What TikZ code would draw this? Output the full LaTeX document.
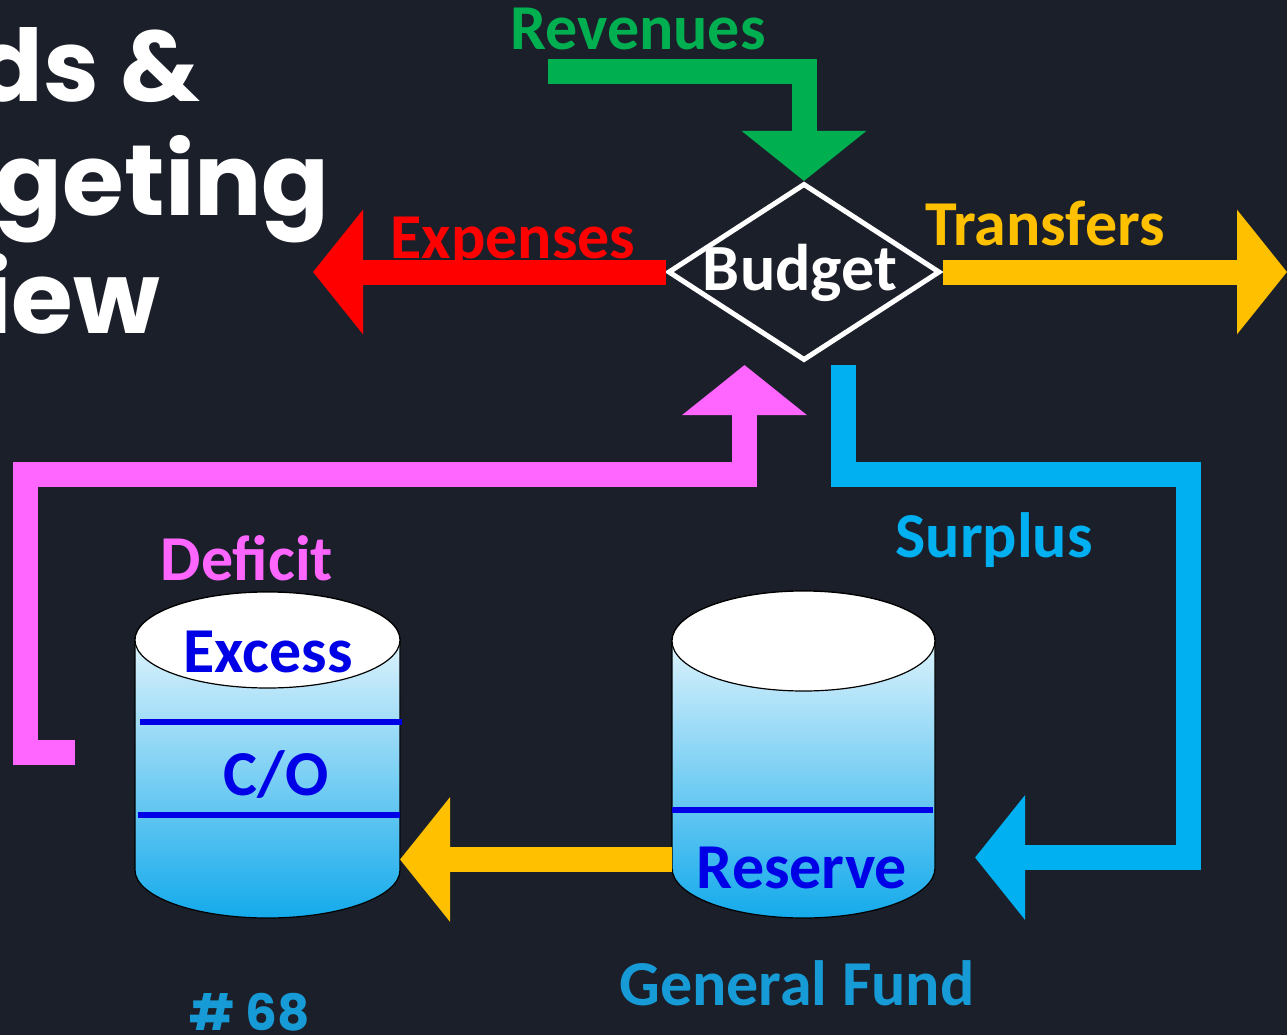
\documentclass[tikz,border=0pt]{standalone}
\usepackage{fontspec}
\setmainfont{Carlito}
\newfontfamily\titlefont{Poppins}
\usetikzlibrary{arrows.meta,shapes.geometric}
\definecolor{bg}{RGB}{27,31,42}
\definecolor{revgreen}{RGB}{0,176,80}
\definecolor{expred}{RGB}{255,0,0}
\definecolor{trgold}{RGB}{255,192,0}
\definecolor{defpink}{RGB}{255,102,255}
\definecolor{surcyan}{RGB}{0,176,240}
\definecolor{gfblue}{RGB}{22,155,215}
\definecolor{dblue}{RGB}{0,0,230}
\definecolor{cylmid}{RGB}{196,224,246}
\definecolor{cylbot}{RGB}{20,170,235}
\begin{document}
\begin{tikzpicture}[x=1pt,y=-1pt,
  flow/.style={line width=25pt, line join=miter, line cap=butt, -{Triangle[length=50pt,width=122pt]}},
  lbl/.style={font=\fontsize{64}{70}\selectfont\bfseries, anchor=base, inner sep=0pt},
  ttl/.style={font=\titlefont\fontsize{100}{110}\bfseries, text=white, anchor=base east, inner sep=0pt},
  cylbody/.style={top color=white, middle color=cylmid, bottom color=cylbot, draw=black, line width=1.2pt},
  level/.style={draw=dblue, line width=6pt},
  ghost/.style={inner sep=0pt, minimum width=265pt, minimum height=326pt}]
\fill[bg] (0,0) rectangle (1287,1035);
\useasboundingbox (0,0) rectangle (1287,1035);

% title (cut at the left edge, as in the reference)
\node[ttl] (t1) at (200,102) {ds \&};
\node[ttl] (t2) at (330,215) {geting};
\node[ttl] (t3) at (160,333) {iew};

% budget diamond
\node[diamond, draw=white, line width=5pt, minimum width=272pt, minimum height=177pt, inner sep=0pt] (budget) at (804,272) {};
\node[lbl, text=white, font=\fontsize{66}{70}\selectfont\bfseries] (budgettxt) at (800,290) {Budget};

% labels
\node[lbl, text=revgreen] (revlbl) at (638,50) {Revenues};
\node[lbl, text=expred] (explbl) at (513,258) {Expenses};
\node[lbl, text=trgold] (trlbl) at (1045,245) {Transfers};
\node[lbl, text=surcyan] (surlbl) at (994,557) {Surplus};
\node[lbl, text=defpink] (deflbl) at (247,580) {Deficit};
\node[lbl, text=gfblue] (gflbl) at (797,1005) {General Fund};
\node[font=\titlefont\fontsize{50}{56}\bfseries, text=gfblue, anchor=base, inner sep=0pt] (num) at (250,1030) {\# 68};

% cylinders
\shade[cylbody] (135,640) -- (135,870) arc[start angle=180, end angle=360, x radius=132.5pt, y radius=48pt] -- (400,640) arc[start angle=0, end angle=180, x radius=132.5pt, y radius=48pt] -- cycle;
\draw[black, fill=white, line width=1.2pt] (267.5,640) ellipse[x radius=132.5pt, y radius=48pt];
\draw[level] (140,722) -- (402,722);
\draw[level] (138,815) -- (400,815);
\node[ghost] (cylL) at (267.5,755) {};
\node[lbl, text=dblue] (excess) at (268,672) {Excess};
\node[lbl, text=dblue] (co) at (276,795) {C/O};

\shade[cylbody] (672,641) -- (672,868) arc[start angle=180, end angle=360, x radius=131.5pt, y radius=50pt] -- (935,641) arc[start angle=0, end angle=180, x radius=131.5pt, y radius=50pt] -- cycle;
\draw[black, fill=white, line width=1.2pt] (803.5,641) ellipse[x radius=131.5pt, y radius=50pt];
\draw[level] (672,810) -- (933,810);
\node[ghost] (cylR) at (803.5,755) {};
\node[lbl, text=dblue] (reserve) at (802,888) {Reserve};

% connector end points
\coordinate (revstart) at (548,72);
\coordinate (expend) at (313,272);
\coordinate (trend) at (1287,272);
\coordinate (defstart) at (75,752.5);
\coordinate (deftip) at (744.5,365);
\coordinate (surstart) at (843.5,365);
\coordinate (surtip) at (975,857.5);
\coordinate (yelstart) at (672,859.5);
\coordinate (yeltip) at (400,859.5);

% flows
\draw[flow, revgreen] (revstart) -| (budget.north);
\draw[flow, expred] (budget.west) -- (expend);
\draw[flow, trgold] (budget.east) -- (trend);
\draw[flow, defpink] (defstart) -- (25.5,752.5) -- (25.5,474.5) -- (744.5,474.5) -- (deftip);
\draw[flow, surcyan] (surstart) -- (843.5,474.5) -- (1188.5,474.5) -- (1188.5,857.5) -- (surtip);
\draw[flow, trgold] (yelstart) -- (yeltip);
\end{tikzpicture}
\end{document}
